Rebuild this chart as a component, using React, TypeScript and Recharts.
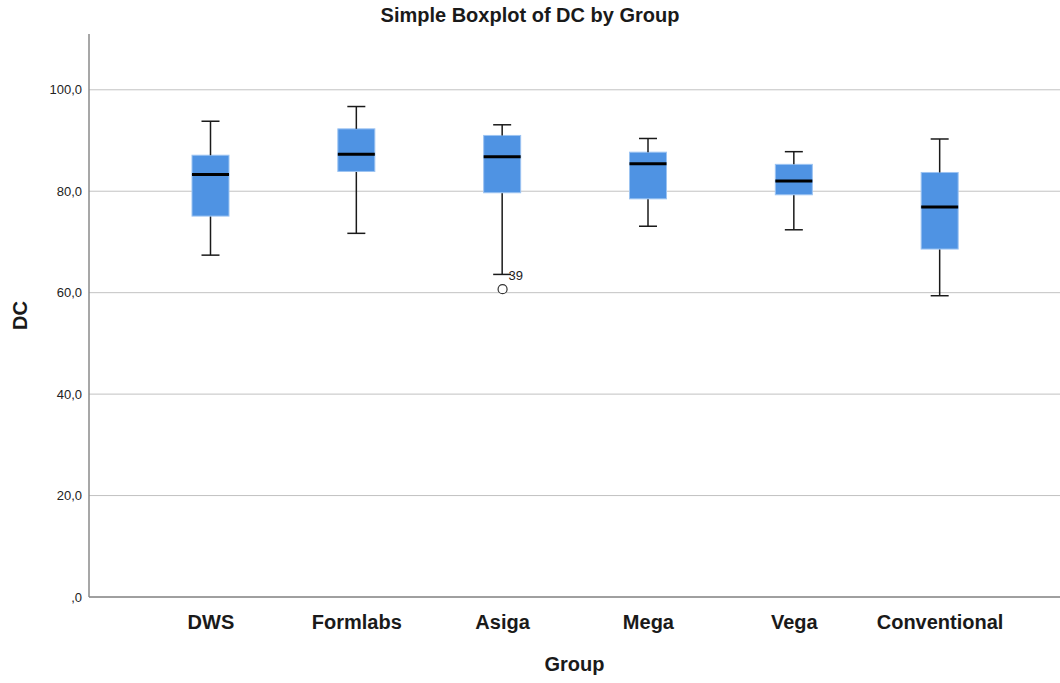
import React from 'react';
import { ComposedChart, Bar, Scatter, XAxis, YAxis, CartesianGrid } from 'recharts';

const groups = ['DWS', 'Formlabs', 'Asiga', 'Mega', 'Vega', 'Conventional'];
const whiskerLow = [67.4, 71.7, 63.6, 73.1, 72.4, 59.4];
const q1 = [75.1, 83.9, 79.7, 78.5, 79.3, 68.6];
const median = [83.3, 87.3, 86.8, 85.4, 82.0, 76.9];
const q3 = [87.1, 92.3, 91.0, 87.7, 85.3, 83.7];
const whiskerHigh = [93.8, 96.7, 93.1, 90.4, 87.8, 90.3];
const yTicks = [0, 20, 40, 60, 80, 100];

const outlierGroups = ['Asiga'];
const outlierValues = [60.7];
const outlierIds = ['39'];

const FONT = '"Liberation Sans", Arial, Helvetica, sans-serif';
const BOX = '#4f93e3';
const BOX_EDGE = '#9cc4f2';
const INK = '#1a1a1a';

const data = groups.map((g, i) => ({
  group: g,
  base: whiskerLow[i],
  lowWhisker: q1[i] - whiskerLow[i],
  boxLow: median[i] - q1[i],
  boxHigh: q3[i] - median[i],
  highWhisker: whiskerHigh[i] - q3[i],
}));

const outliers = outlierGroups.map((g, i) => ({ group: g, value: outlierValues[i], id: outlierIds[i] }));

const CAP = 18;

const LowWhisker = (p: any) => {
  const cx = p.x + p.width / 2;
  const bottom = p.y + p.height;
  return (
    <g>
      <line x1={cx} x2={cx} y1={p.y} y2={bottom} stroke={INK} strokeWidth={1.5} />
      <line x1={cx - CAP / 2} x2={cx + CAP / 2} y1={bottom} y2={bottom} stroke={INK} strokeWidth={1.5} />
    </g>
  );
};

const HighWhisker = (p: any) => {
  const cx = p.x + p.width / 2;
  return (
    <g>
      <line x1={cx} x2={cx} y1={p.y} y2={p.y + p.height} stroke={INK} strokeWidth={1.5} />
      <line x1={cx - CAP / 2} x2={cx + CAP / 2} y1={p.y} y2={p.y} stroke={INK} strokeWidth={1.5} />
    </g>
  );
};

const BoxLow = (p: any) => (
  <rect x={p.x} y={p.y} width={p.width} height={p.height} fill={BOX} stroke={BOX_EDGE} strokeWidth={1} />
);

// upper half of the box, median line drawn on its lower edge
const BoxHigh = (p: any) => {
  const m = p.y + p.height;
  return (
    <g>
      <rect x={p.x} y={p.y} width={p.width} height={p.height} fill={BOX} stroke={BOX_EDGE} strokeWidth={1} />
      <line x1={p.x} x2={p.x + p.width} y1={m} y2={m} stroke="#000" strokeWidth={3} />
    </g>
  );
};

const OutlierDot = (p: any) => (
  <g>
    <circle cx={p.cx} cy={p.cy} r={4.5} fill="#fff" stroke="#333" strokeWidth={1.2} />
    <text x={p.cx + 6} y={p.cy - 9} fontSize={13} fontFamily={FONT} fill="#222">
      {p.payload.id}
    </text>
  </g>
);

const XTick = (p: any) => (
  <text x={p.x} y={p.y + 30} textAnchor="middle" fontSize={20} fontWeight="bold" fontFamily={FONT} fill={INK}>
    {p.payload.value}
  </text>
);

const fmt = (v: number) => (v === 0 ? ',0' : v.toFixed(1).replace('.', ','));

const YTick = (p: any) => (
  <text x={82} y={p.y + 4.5} textAnchor="end" fontSize={13} fontFamily={FONT} fill="#222">
    {fmt(p.payload.value)}
  </text>
);

export default function App() {
  return (
    <div style={{ position: 'absolute', left: 0, top: 0, width: 1060, height: 683, background: '#fff' }}>
      <div
        style={{
          position: 'absolute',
          top: 4,
          left: 0,
          width: 1060,
          textAlign: 'center',
          fontFamily: FONT,
          fontWeight: 'bold',
          fontSize: 20,
          color: INK,
        }}
      >
        Simple Boxplot of DC by Group
      </div>
      <ComposedChart width={1060} height={683} data={data} margin={{ top: 34, right: 0, bottom: 0, left: 0 }}>
        <CartesianGrid vertical={false} horizontalValues={yTicks} stroke="#c2c2c2" strokeWidth={1} />
        <XAxis
          dataKey="group"
          type="category"
          allowDuplicatedCategory={false}
          height={86}
          padding={{ left: 49, right: 47 }}
          tickLine={false}
          tickSize={0}
          tick={<XTick />}
          stroke="#8a8a8a"
          strokeWidth={1.5}
          label={{
            content: (lp: any) => (
              <text
                x={lp.viewBox.x + lp.viewBox.width / 2}
                y={lp.viewBox.y + 74}
                textAnchor="middle"
                fontSize={20}
                fontWeight="bold"
                fontFamily={FONT}
                fill={INK}
              >
                Group
              </text>
            ),
          }}
        />
        <YAxis
          type="number"
          domain={[0, 111]}
          ticks={yTicks}
          width={89}
          tickLine={false}
          tick={<YTick />}
          stroke="#8a8a8a"
          strokeWidth={1.5}
          label={{
            content: (lp: any) => {
              const cy = lp.viewBox.y + lp.viewBox.height / 2;
              return (
                <text
                  x={27}
                  y={cy}
                  transform={`rotate(-90 27 ${cy})`}
                  textAnchor="middle"
                  fontSize={20}
                  fontWeight="bold"
                  fontFamily={FONT}
                  fill={INK}
                >
                  DC
                </text>
              );
            },
          }}
        />
        <Bar dataKey="base" stackId="box" barSize={37} fill="none" isAnimationActive={false} />
        <Bar dataKey="lowWhisker" stackId="box" barSize={37} shape={<LowWhisker />} isAnimationActive={false} />
        <Bar dataKey="boxLow" stackId="box" barSize={37} shape={<BoxLow />} isAnimationActive={false} />
        <Bar dataKey="boxHigh" stackId="box" barSize={37} shape={<BoxHigh />} isAnimationActive={false} />
        <Bar dataKey="highWhisker" stackId="box" barSize={37} shape={<HighWhisker />} isAnimationActive={false} />
        <Scatter data={outliers} dataKey="value" shape={<OutlierDot />} isAnimationActive={false} />
      </ComposedChart>
    </div>
  );
}
